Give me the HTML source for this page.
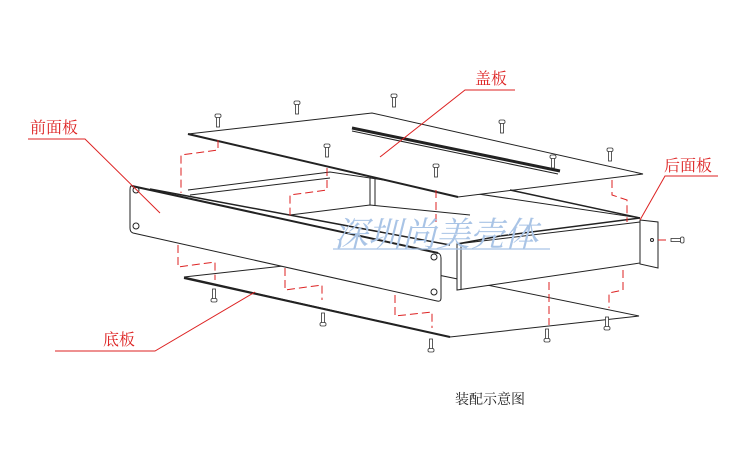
<!DOCTYPE html>
<html><head><meta charset="utf-8"><style>
html,body{margin:0;padding:0;background:#fff;}
svg{display:block}
text{font-family:"Liberation Serif","Noto Serif CJK SC",serif;}
</style></head><body>
<svg width="750" height="450" viewBox="0 0 750 450" xmlns="http://www.w3.org/2000/svg">
<defs>
<g id="sc"><rect x="-1.5" y="-9" width="3" height="10" fill="#fff" stroke="#333" stroke-width="0.8"/><rect x="-3" y="-12" width="6" height="3.5" rx="1.5" fill="#fff" stroke="#333" stroke-width="0.8"/></g>
<g id="scu"><rect x="-1.5" y="-1" width="3" height="10" fill="#fff" stroke="#333" stroke-width="0.8"/><rect x="-3" y="8.5" width="6" height="3.5" rx="1.5" fill="#fff" stroke="#333" stroke-width="0.8"/></g>
</defs>
<g fill="none" stroke="#222" stroke-width="1">
<polygon points="184,277 355,258 639,316 450,337" fill="#fff"/>
<line x1="184" y1="278" x2="450" y2="337" stroke-width="2"/>
<polyline points="188,190 330,172 640,218"/>
<polyline points="190,195 330,178"/>
<line x1="370" y1="178" x2="370" y2="205"/>
<line x1="375" y1="178" x2="375" y2="205"/>
<polyline points="290,215 370,205 470,215"/>
<path d="M132,186 L438,253 Q441,254 441,258 L441,298 Q441,302 437,301 L133,233 Q130,232 130,228 L130,190 Q130,185 132,186 Z" fill="#fff"/>
<line x1="132" y1="186" x2="438" y2="253" stroke-width="2"/>
<line x1="150" y1="189" x2="450" y2="245" stroke-width="1.5"/>
<circle cx="136" cy="190" r="3"/><circle cx="136" cy="226" r="3"/>
<circle cx="434" cy="257" r="3"/><circle cx="434" cy="292" r="3"/>
<polygon points="457,244 640,222 640,263 457,290" fill="#fff"/>
<line x1="461" y1="244" x2="461" y2="289"/>
<polyline points="457,244 500,236 640,218" stroke-width="1.5"/>
<polygon points="640,220 658,222 658,268 640,264" fill="#fff"/>
<circle cx="652" cy="240" r="1.5"/>
<polygon points="188,134 372,113 643,174 458,197" fill="#fff"/>
<line x1="188" y1="134" x2="458" y2="197" stroke-width="2"/>
<line x1="352" y1="128" x2="560" y2="171" stroke-width="3"/>
<line x1="352" y1="131" x2="558" y2="174" stroke-width="1"/>
<line x1="510" y1="190" x2="640" y2="218" stroke-width="1.5"/>
</g>
<g>
<use href="#sc" x="218" y="126"/><use href="#sc" x="297" y="113"/><use href="#sc" x="394" y="106"/>
<use href="#sc" x="502" y="132"/><use href="#sc" x="610" y="160"/><use href="#sc" x="327" y="156"/>
<use href="#sc" x="436" y="176"/><use href="#sc" x="553" y="167"/>
<use href="#scu" x="214" y="290"/><use href="#scu" x="323" y="314"/><use href="#scu" x="431" y="340"/>
<use href="#scu" x="547" y="330"/><use href="#scu" x="607" y="318"/>
<g transform="translate(672,240) rotate(90)"><use href="#sc"/></g>
</g>
<g fill="none" stroke="#d22" stroke-width="1" stroke-dasharray="8,4">
<polyline points="218,140 218,150 181,155 181,193"/>
<polyline points="327,168 327,190 290,195 290,217"/>
<polyline points="436,190 436,230"/>
<polyline points="612,180 612,195 627,200 627,222"/>
<polyline points="178,245 178,267 215,262 215,280"/>
<polyline points="285,268 285,290 322,285 322,300"/>
<polyline points="395,295 395,316 432,312 432,328"/>
<polyline points="549,282 549,325"/>
<polyline points="623,270 623,290 609,293 609,308"/>
<line x1="658" y1="240" x2="668" y2="240"/>
</g>
<text x="334" y="246" font-size="34" fill="#a9c4e6" font-style="italic">深圳尚美壳体</text>
<line x1="333" y1="249" x2="550" y2="249" stroke="#a9c4e6" stroke-width="1.2"/>
<g fill="none" stroke="#d22" stroke-width="1">
<polyline points="28,139 85,139 160,213"/>
<polyline points="515,90 465,90 380,157"/>
<polyline points="718,176 665,176 640,220"/>
<polyline points="55,351 155,351 255,292"/>
</g>
<g fill="#d22" font-size="16">
<text x="30" y="133">前面板</text>
<text x="475" y="84">盖板</text>
<text x="664" y="171">后面板</text>
<text x="103" y="345">底板</text>
</g>
<text x="455" y="404" font-size="14" fill="#222">装配示意图</text>
</svg>
</body></html>
